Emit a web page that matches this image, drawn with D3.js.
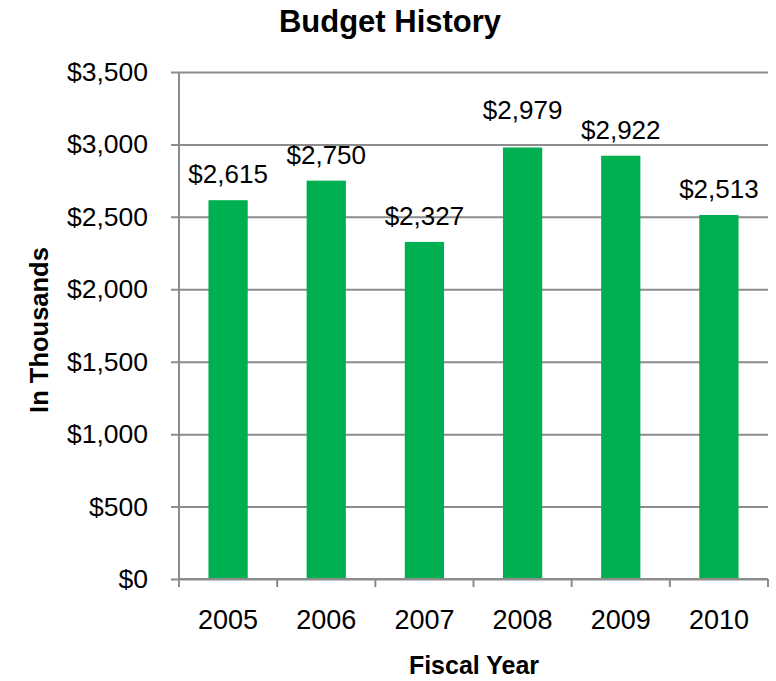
<!DOCTYPE html>
<html>
<head>
<meta charset="utf-8">
<script src="https://cdn.jsdelivr.net/npm/d3@7"></script>
<style>
  html, body { margin: 0; padding: 0; background: #fff; }
  svg { display: block; font-family: "Liberation Sans", Arial, sans-serif; }
</style>
</head>
<body>
<svg id="chart" width="776" height="681"></svg>
<script>
// Annual budget, in thousands of dollars
const years = ["2005", "2006", "2007", "2008", "2009", "2010"];
const budget = [2615, 2750, 2327, 2979, 2922, 2513];
const yTicks = [0, 500, 1000, 1500, 2000, 2500, 3000, 3500];

const svg = d3.select("#chart");
const margin = { left: 179, right: 8, top: 72, bottom: 102 };
const W = 776, H = 681;
const innerW = W - margin.left - margin.right;
const innerH = H - margin.top - margin.bottom;

const x = d3.scaleBand().domain(years).range([0, innerW]).paddingInner(0.6).paddingOuter(0.3);
const xb = d3.scaleBand().domain(years).range([0, innerW]);
const y = d3.scaleLinear().domain([0, 3500]).range([innerH, 0]);

const g = svg.append("g").attr("transform", `translate(${margin.left},${margin.top})`);
const grey = "#8c8c8c";
const fmt = d => "$" + d3.format(",")(d);

// horizontal gridlines with outward ticks
const yAxis = g.append("g")
  .call(d3.axisLeft(y).tickValues(yTicks).tickFormat(fmt).tickSize(-innerW).tickSizeOuter(0).tickPadding(31));
yAxis.select(".domain").remove();
yAxis.attr("font-family", null);
yAxis.selectAll(".tick line").attr("stroke", grey).attr("stroke-width", 2).attr("x1", -8);
yAxis.selectAll(".tick text").attr("font-size", 26.5).attr("fill", "#000");

// vertical axis line
g.append("line").attr("x1", 0).attr("x2", 0).attr("y1", 0).attr("y2", innerH)
  .attr("stroke", grey).attr("stroke-width", 2);

// bars
g.selectAll("rect.bar").data(years).join("rect")
  .attr("class", "bar")
  .attr("x", d => x(d))
  .attr("width", x.bandwidth())
  .attr("y", (d, i) => y(budget[i]))
  .attr("height", (d, i) => innerH - y(budget[i]))
  .attr("fill", "#00b050");

// category axis with boundary ticks
const xAxisG = g.append("g").attr("transform", `translate(0,${innerH})`);
xAxisG.append("line").attr("x1", 0).attr("x2", innerW).attr("stroke", grey).attr("stroke-width", 2);
const bounds = years.map(d => xb(d)).concat([innerW]);
xAxisG.selectAll("line.tk").data(bounds).join("line")
  .attr("class", "tk")
  .attr("x1", d => d).attr("x2", d => d).attr("y1", 0).attr("y2", 8)
  .attr("stroke", grey).attr("stroke-width", 2);
xAxisG.selectAll("text").data(years).join("text")
  .attr("x", d => xb(d) + xb.bandwidth() / 2)
  .attr("y", 50)
  .attr("text-anchor", "middle")
  .attr("font-size", 27)
  .text(d => d);

// value labels; the tallest bar's label is lifted a little further
const labelLift = { "2008": 11 };
g.selectAll("text.val").data(years).join("text")
  .attr("class", "val")
  .attr("x", d => x(d) + x.bandwidth() / 2)
  .attr("y", (d, i) => y(budget[i]) - 17 - (labelLift[d] || 0))
  .attr("text-anchor", "middle")
  .attr("font-size", 26)
  .text((d, i) => fmt(budget[i]));

// titles
svg.append("text").attr("x", 390).attr("y", 32).attr("text-anchor", "middle")
  .attr("font-size", 31).attr("font-weight", "bold").text("Budget History");
svg.append("text").attr("transform", `translate(48,330) rotate(-90)`)
  .attr("text-anchor", "middle").attr("font-size", 25.5).attr("font-weight", "bold").text("In Thousands");
svg.append("text").attr("x", 474).attr("y", 674).attr("text-anchor", "middle")
  .attr("font-size", 25).attr("font-weight", "bold").text("Fiscal Year");
</script>
</body>
</html>
